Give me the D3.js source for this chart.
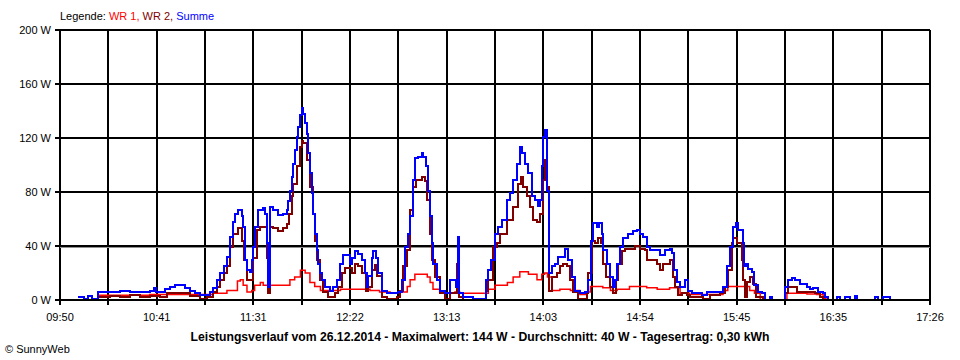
<!DOCTYPE html>
<html>
<head>
<meta charset="utf-8">
<script src="https://cdn.jsdelivr.net/npm/d3@7"></script>
<style>
  body { margin: 0; background: #fff; }
  svg text { font-family: "Liberation Sans", Arial, sans-serif; font-size: 11px; fill: #000; }
</style>
</head>
<body>
<svg id="chart" width="960" height="360"></svg>
<script>
// x axis labels (every second grid line)
const tick_labels = ["09:50", "10:41", "11:31", "12:22", "13:13", "14:03", "14:54", "15:45", "16:35", "17:26"]
const y_ticks = [0, 40, 80, 120, 160, 200]
const title_text = "Leistungsverlauf vom 26.12.2014 - Maximalwert: 144 W - Durchschnitt: 40 W - Tagesertrag: 0,30 kWh"

// WR 1 (red)
const wr1 = [
  ["10:10:00",3.5],["10:37:00",4],["11:03:30",4],["11:10:00",5],["11:17:30",7],["11:23:00",14],["11:24:30",15],
  ["11:26:00",11],["11:28:00",6],["11:30:30",7],["11:32:00",11],["11:35:00",13],["11:36:30",11],["11:39:00",11],
  ["11:49:30",11],["11:50:30",15],["11:53:00",17],["11:56:00",22],["11:57:00",22],["11:58:30",20],["12:01:00",13],
  ["12:03:30",10],["12:06:30",7],["12:11:30",7],["12:17:00",8],["12:29:00",8],["12:32:30",7],["12:37:30",6],
  ["12:43:00",5],["12:48:00",6],["12:52:00",10],["12:53:30",15],["12:56:00",19],["13:02:30",17],["13:04:00",13],
  ["13:05:30",8],["13:09:00",6],["13:12:00",5],["13:17:00",6],["13:19:30",5],["13:32:30",5],["13:34:30",8],
  ["13:38:00",11],["13:44:30",13],["13:47:30",17],["13:51:00",21],["13:53:30",21],["13:55:30",19],["14:00:00",15],
  ["14:02:30",19],["14:04:00",20],["14:05:30",17],["14:08:00",7],["14:12:00",8],["14:17:30",7],["14:22:30",4],
  ["14:26:00",6],["14:28:00",10],["14:31:30",10],["14:34:30",9],["14:38:30",7],["14:42:00",8],["14:48:30",10],
  ["14:57:30",9],["15:03:00",8],["15:09:30",9],["15:15:00",5],["15:20:00",4],["15:30:30",4],["15:37:30",7],
  ["15:40:00",10],["15:48:00",10],["15:51:30",7],["15:54:00",5],["15:57:00",0],["16:11:00",5],["16:21:30",4.5],
  ["16:26:30",4],["16:30:00",1],["16:31:30",0]
]

// WR 2 (dark red)
const wr2 = [
  ["10:10:00",2],["10:16:00",3],["10:21:30",2],["10:26:30",4],["10:32:00",2],["10:37:00",3],["10:42:30",2],
  ["10:46:00",5],["10:54:30",5],["10:58:00",3],["11:03:30",1],["11:07:00",2],["11:10:00",6],["11:12:30",10],
  ["11:14:00",15],["11:16:00",20],["11:17:30",25],["11:19:00",39],["11:20:30",49],["11:23:30",53],["11:25:30",44],
  ["11:26:30",30],["11:28:00",15],["11:30:00",15],["11:31:00",31],["11:33:00",52],["11:35:00",54],["11:37:30",54],
  ["11:38:30",31],["11:39:00",5],["11:40:00",54],["11:41:30",53],["11:44:30",51],["11:47:00",53],["11:49:00",56],
  ["11:50:00",64],["11:51:30",77],["11:52:00",86],["11:54:00",99],["11:56:00",113],["11:57:00",118],["11:57:30",116],
  ["11:59:30",104],["12:01:00",84],["12:02:30",64],["12:03:30",44],["12:04:30",30],["12:06:30",15],["12:08:00",6],
  ["12:10:30",2],["12:14:00",5],["12:15:30",10],["12:18:00",20],["12:19:30",24],["12:21:00",24],["12:23:00",20],
  ["12:24:30",27],["12:26:00",25],["12:28:30",20],["12:30:30",7],["12:31:30",10],["12:33:30",22],["12:35:00",26],
  ["12:36:00",18],["12:39:00",2],["12:41:30",1],["12:46:30",2],["12:48:00",7],["12:50:00",25],["12:52:00",37],
  ["12:53:30",67],["12:55:00",84],["12:56:30",89],["12:59:30",91],["13:01:30",88],["13:02:30",74],["13:04:00",49],
  ["13:05:00",30],["13:06:30",17],["13:09:00",5],["13:12:00",1],["13:14:30",5],["13:17:00",5],["13:18:00",27],
  ["13:19:00",2],["13:21:00",0],["13:32:00",0],["13:33:30",7],["13:34:30",15],["13:37:00",39],["13:39:00",42],
  ["13:40:30",49],["13:44:30",59],["13:47:30",69],["13:50:00",86],["13:51:30",91],["13:52:30",84],["13:55:00",77],
  ["13:56:30",69],["13:58:00",59],["14:00:00",58],["14:01:30",64],["14:03:00",89],["14:04:00",104],["14:05:00",101],
  ["14:05:30",84],["14:06:30",7],["14:08:00",17],["14:10:30",20],["14:12:00",25],["14:13:30",27],["14:15:30",25],
  ["14:17:30",15],["14:19:00",6],["14:21:30",1],["14:24:00",1],["14:26:00",5],["14:27:00",20],["14:29:00",44],
  ["14:30:30",42],["14:32:00",46],["14:33:30",42],["14:34:30",27],["14:36:00",17],["14:38:30",10],["14:40:00",5],
  ["14:41:30",15],["14:42:30",27],["14:44:30",36],["14:46:00",38],["14:51:30",40],["14:54:00",38],["14:56:30",37],
  ["14:57:30",30],["15:00:30",30],["15:03:00",27],["15:04:30",22],["15:06:00",27],["15:09:30",30],["15:11:30",17],
  ["15:12:30",10],["15:14:00",4],["15:16:00",5],["15:18:30",4],["15:20:00",2],["15:27:00",1],["15:30:30",4],
  ["15:36:00",5],["15:38:30",10],["15:40:00",22],["15:42:00",42],["15:43:00",46],["15:45:00",42],["15:46:00",42],
  ["15:47:30",30],["15:48:00",15],["15:49:00",2],["15:50:00",13],["15:51:30",17],["15:53:00",12],["15:55:00",2],
  ["15:58:30",0],["16:10:00",5],["16:11:30",10],["16:14:00",10],["16:16:30",6],["16:21:30",6],["16:25:30",5],
  ["16:28:30",2],["16:30:00",0]
]

// Summe (blue)
const summe = [
  ["09:59:30",2],["10:02:30",1],["10:04:30",3],["10:07:00",1],["10:10:00",6],["10:16:00",6],["10:21:30",7],
  ["10:26:30",6],["10:32:00",6],["10:37:00",7],["10:39:30",9],["10:40:30",6],["10:45:00",8],["10:47:30",10],
  ["10:50:30",11],["10:53:00",11],["10:55:30",9],["10:58:00",7],["11:01:00",5],["11:03:30",4],["11:07:00",4],
  ["11:08:30",6],["11:10:00",9],["11:12:30",15],["11:14:00",20],["11:16:00",25],["11:17:30",32],["11:19:00",47],
  ["11:20:30",58],["11:21:30",64],["11:23:30",67],["11:25:30",62],["11:26:00",54],["11:27:00",30],["11:28:00",22],
  ["11:29:30",21],["11:30:30",30],["11:31:00",39],["11:32:00",54],["11:34:00",67],["11:36:30",68],["11:37:30",64],
  ["11:38:30",42],["11:39:00",10],["11:40:00",69],["11:41:30",67],["11:44:30",63],["11:47:00",64],["11:49:00",67],
  ["11:49:30",73],["11:50:30",81],["11:51:30",91],["11:52:00",101],["11:53:00",111],["11:54:00",121],["11:54:30",128],
  ["11:56:00",137],["11:57:00",142],["11:57:30",138],["11:58:30",131],["11:59:30",123],["12:00:00",109],["12:01:00",94],
  ["12:02:00",79],["12:02:30",64],["12:03:30",49],["12:04:30",37],["12:05:00",27],["12:06:30",20],["12:07:30",15],
  ["12:09:00",10],["12:11:30",7],["12:13:00",10],["12:15:00",15],["12:17:00",27],["12:18:30",33],["12:21:00",33],
  ["12:22:00",27],["12:23:00",31],["12:24:30",36],["12:26:00",34],["12:28:30",30],["12:30:00",20],["12:31:00",10],
  ["12:31:30",18],["12:33:30",31],["12:34:00",36],["12:35:30",31],["12:36:30",20],["12:39:00",7],["12:41:30",5],
  ["12:44:30",5],["12:47:00",6],["12:49:00",15],["12:51:00",39],["12:52:30",49],["12:53:30",62],["12:55:00",89],
  ["12:56:00",105],["12:57:30",106],["12:59:30",109],["13:00:00",106],["13:02:00",99],["13:03:00",81],["13:04:00",62],
  ["13:05:00",42],["13:05:30",27],["13:07:30",15],["13:09:00",7],["13:12:00",5],["13:14:30",15],["13:16:00",15],
  ["13:17:30",10],["13:18:30",47],["13:19:00",5],["13:21:00",2],["13:26:30",1],["13:31:30",1],["13:33:30",15],
  ["13:34:30",22],["13:36:00",30],["13:38:00",49],["13:39:30",54],["13:41:30",59],["13:44:30",74],["13:46:00",79],
  ["13:47:30",89],["13:49:30",101],["13:51:00",113],["13:52:00",109],["13:53:30",101],["13:55:30",94],["13:57:30",77],
  ["13:59:00",74],["14:00:30",70],["14:01:30",74],["14:02:30",99],["14:03:00",121],["14:04:00",126],["14:05:00",121],
  ["14:05:30",81],["14:06:30",20],["14:08:00",25],["14:09:30",27],["14:11:00",32],["14:13:00",32],["14:14:30",38],
  ["14:16:00",30],["14:18:30",17],["14:20:00",7],["14:22:30",5],["14:25:00",6],["14:26:30",15],["14:28:30",44],
  ["14:29:30",57],["14:31:30",54],["14:32:30",57],["14:34:00",49],["14:34:30",37],["14:36:30",27],["14:38:30",17],
  ["14:40:00",10],["14:41:00",15],["14:42:00",27],["14:43:30",39],["14:45:00",46],["14:47:30",49],["14:50:30",51],
  ["14:52:30",52],["14:54:00",49],["14:55:30",47],["14:57:30",39],["14:59:00",37],["15:03:00",37],["15:04:30",33],
  ["15:07:00",37],["15:09:30",38],["15:11:00",35],["15:12:00",22],["15:13:30",13],["15:15:00",10],["15:17:30",15],
  ["15:19:00",7],["15:21:00",5],["15:26:30",4],["15:29:00",6],["15:34:30",6],["15:37:30",10],["15:39:30",25],
  ["15:41:00",39],["15:42:30",54],["15:44:30",57],["15:45:30",52],["15:47:00",52],["15:48:00",42],["15:48:30",25],
  ["15:49:30",27],["15:50:30",23],["15:52:30",21],["15:54:00",11],["15:56:00",6],["15:58:00",5],["15:59:30",0],
  ["16:02:00",2],["16:03:00",0],["16:10:00",10],["16:11:30",15],["16:13:30",16],["16:15:00",15],["16:18:00",12],
  ["16:21:30",10],["16:23:00",8],["16:24:30",9],["16:27:30",6],["16:30:00",5],["16:31:00",2],["16:32:30",0],
  ["16:37:00",2],["16:39:00",0],["16:41:30",2],["16:44:00",0],["16:46:30",3],["16:47:30",0],["16:57:00",2],
  ["16:58:30",0],["17:01:30",2],["17:05:00",0]
]

const series = [
  {name: "WR 1", data: wr1, color: "#ff0000", width: 1.5, crisp: false},
  {name: "WR 2", data: wr2, color: "#800000", width: 2, crisp: true},
  {name: "Summe", data: summe, color: "#0000ff", width: 2, crisp: true}
]

const parse = d3.timeParse("%H:%M:%S")
const svg = d3.select("#chart")

const plot = {left: 60, right: 930, top: 30, bottom: 300}
const t0 = parse(tick_labels[0] + ":00")
const t1 = parse(tick_labels[tick_labels.length - 1] + ":00")

const x = d3.scaleTime().domain([t0, t1]).range([plot.left, plot.right])
const y = d3.scaleLinear().domain([0, 200]).range([plot.bottom, plot.top])

// grid: 18 intervals, labels on every second line
const grid_times = d3.range(19).map((i)=> new Date(+t0 + i * (t1 - t0) / 18))

const grid = svg.append("g").attr("class", "grid").attr("shape-rendering", "crispEdges")
grid.selectAll(".vline")
  .data(grid_times)
  .enter()
  .append("line")
  .attr("x1", (d)=> Math.round(x(d)))
  .attr("x2", (d)=> Math.round(x(d)))
  .attr("y1", plot.top)
  .attr("y2", plot.bottom + 5)
  .attr("stroke", "#000")
  .attr("stroke-width", 2)

grid.selectAll(".hline")
  .data(y_ticks)
  .enter()
  .append("line")
  .attr("x1", plot.left - 5)
  .attr("x2", plot.right)
  .attr("y1", (d)=> y(d))
  .attr("y2", (d)=> y(d))
  .attr("stroke", "#000")
  .attr("stroke-width", 2)

// the 40 W line has a grey shadow
grid.append("line")
  .attr("x1", plot.left)
  .attr("x2", plot.right)
  .attr("y1", y(40) + 1.5)
  .attr("y2", y(40) + 1.5)
  .attr("stroke", "#909090")
  .attr("stroke-width", 1)

svg.selectAll(".ylabel")
  .data(y_ticks)
  .enter()
  .append("text")
  .attr("class", "ylabel")
  .attr("x", plot.left - 9)
  .attr("y", (d)=> y(d) + 4)
  .attr("text-anchor", "end")
  .text((d)=> `${d} W`)

svg.selectAll(".xlabel")
  .data(tick_labels)
  .enter()
  .append("text")
  .attr("class", "xlabel")
  .attr("x", (d, i)=> x(grid_times[i * 2]))
  .attr("y", 321)
  .attr("text-anchor", "middle")
  .text((d)=> d)

// data lines, stepped like the original
const line = d3.line()
  .x((d)=> x(parse(d[0])))
  .y((d)=> y(d[1]))
  .curve(d3.curveStepAfter)

svg.append("clipPath").attr("id", "clip")
  .append("rect")
  .attr("x", plot.left).attr("y", plot.top)
  .attr("width", plot.right - plot.left).attr("height", plot.bottom - plot.top - 1)

svg.append("g")
  .attr("clip-path", "url(#clip)")
  .selectAll(".series")
  .data(series)
  .enter()
  .append("path")
  .attr("class", "series")
  .attr("d", (d)=> line(d.data))
  .attr("fill", "none")
  .attr("stroke", (d)=> d.color)
  .attr("stroke-width", (d)=> d.width)
  .attr("shape-rendering", (d)=> d.crisp ? "crispEdges" : "auto")

// legend
const legend = svg.append("text").attr("x", plot.left).attr("y", 20)
legend.append("tspan").text("Legende: ")
series.forEach((s, i)=> {
  legend.append("tspan")
    .style("fill", s.color)
    .text(s.name + (i < series.length - 1 ? ", " : ""))
})

svg.append("text")
  .attr("x", 480)
  .attr("y", 341)
  .attr("text-anchor", "middle")
  .style("font-weight", "bold")
  .style("font-size", "12.2px")
  .text(title_text)

svg.append("text")
  .attr("x", 5)
  .attr("y", 353)
  .text("\u00a9 SunnyWeb")
</script>
</body>
</html>
